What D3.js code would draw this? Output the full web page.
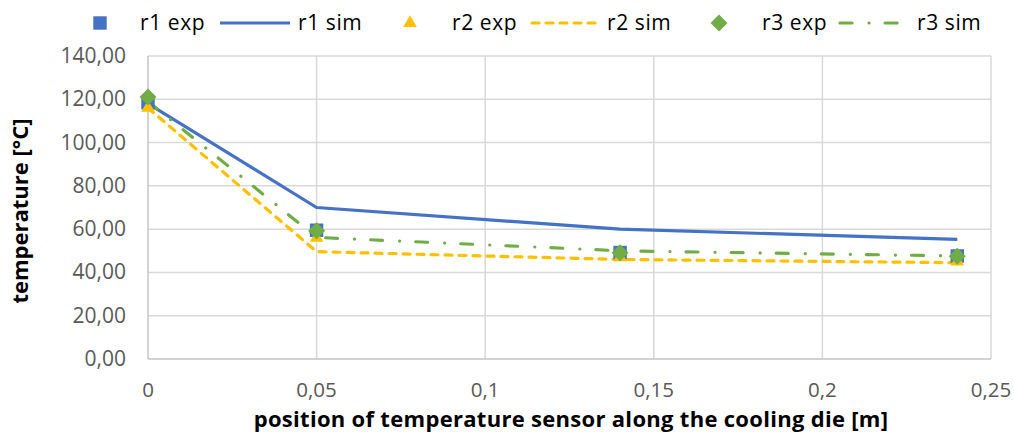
<!DOCTYPE html>
<html><head><meta charset="utf-8">
<script src="https://cdn.jsdelivr.net/npm/d3@7"></script>
<style>
html,body{margin:0;padding:0;background:#fff;}
svg{display:block;font-family:"Open Sans",sans-serif;}
</style></head>
<body><svg id="c" width="1014" height="432"></svg>
<script>
const positions = [0, 0.05, 0.14, 0.24];
const r1Exp = [118.4, 59.5, 49.2, 47.6];
const r1Sim = [118.0, 70.0, 60.0, 55.3];
const r2Exp = [116.0, 56.0, 47.0, 45.0];
const r2Sim = [116.0, 49.6, 46.0, 44.5];
const r3Exp = [121.0, 59.2, 49.1, 47.5];
const r3Sim = [119.0, 56.2, 50.0, 47.6];
const xTicks = [0, 0.05, 0.1, 0.15, 0.2, 0.25];
const xTickLabels = ["0", "0,05", "0,1", "0,15", "0,2", "0,25"];
const yTicks = [0, 20, 40, 60, 80, 100, 120, 140];
const yTickLabels = ["0,00", "20,00", "40,00", "60,00", "80,00", "100,00", "120,00", "140,00"];
const seriesNames = ["r1 exp", "r1 sim", "r2 exp", "r2 sim", "r3 exp", "r3 sim"];
const xTitle = "position of temperature sensor along the cooling die [m]";
const yTitle = "temperature [°C]";

const blue = "#4472C4", yellow = "#FFC000", green = "#70AD47";
const svg = d3.select("#c");
const x = d3.scaleLinear().domain([0, 0.25]).range([148, 991]);
const y = d3.scaleLinear().domain([0, 140]).range([359, 56]);

// gridlines
const g = svg.append("g");
g.selectAll(".hg").data(yTicks.filter(d => d > 0)).join("line")
  .attr("x1", x(0)).attr("x2", x(0.25)).attr("y1", d => y(d)).attr("y2", d => y(d))
  .attr("stroke", "#d9d9d9").attr("stroke-width", 1.5);
g.selectAll(".vg").data(xTicks.filter(d => d > 0)).join("line")
  .attr("x1", d => x(d)).attr("x2", d => x(d)).attr("y1", y(0)).attr("y2", y(140))
  .attr("stroke", "#d9d9d9").attr("stroke-width", 1.5);
// axis lines
g.append("line").attr("x1", x(0)).attr("x2", x(0.25)).attr("y1", y(0)).attr("y2", y(0))
  .attr("stroke", "#c4c4c4").attr("stroke-width", 1.5);
g.append("line").attr("x1", x(0)).attr("x2", x(0)).attr("y1", y(0)).attr("y2", y(140))
  .attr("stroke", "#c4c4c4").attr("stroke-width", 1.5);

// tick labels
svg.append("g").selectAll("text").data(yTicks).join("text")
  .attr("x", 126).attr("y", d => y(d)).attr("dy", "0.33em")
  .attr("text-anchor", "end").attr("font-size", 21).attr("fill", "#595959")
  .text((d, i) => yTickLabels[i]);
svg.append("g").selectAll("text").data(xTicks).join("text")
  .attr("x", d => x(d)).attr("y", 397)
  .attr("text-anchor", "middle").attr("font-size", 20.5).attr("fill", "#595959")
  .text((d, i) => xTickLabels[i]);

// titles
svg.append("text").attr("x", 571).attr("y", 427).attr("text-anchor", "middle")
  .attr("font-size", 22).attr("letter-spacing", 0.3).attr("font-weight", "bold").attr("fill", "#000").text(xTitle);
svg.append("text").attr("transform", "translate(28,211) rotate(-90)").attr("text-anchor", "middle")
  .attr("font-size", 22).attr("font-weight", "bold").attr("fill", "#000").text(yTitle);

// lines
const line = d3.line().x((d, i) => x(positions[i])).y(d => y(d));
const lineStyles = [
  {data: r1Sim, color: blue, dash: null},
  {data: r2Sim, color: yellow, dash: "7,7"},
  {data: r3Sim, color: green, dash: "12,17,0.1,16"}
];
lineStyles.forEach(s => {
  svg.append("path").attr("d", line(s.data)).attr("fill", "none")
    .attr("stroke", s.color).attr("stroke-width", 3.2)
    .attr("stroke-dasharray", s.dash).attr("stroke-linecap", s.dash ? "round" : "butt")
    .attr("stroke-linejoin", "round");
});

// markers
const sq = () => d3.symbol().type(d3.symbolSquare).size(180)();
const tri = () => d3.symbol().type(d3.symbolTriangle).size(80)();
const dia = () => "M0,-8.5L8.5,0L0,8.5L-8.5,0Z";
const markerSets = [
  {data: r1Exp, color: blue, sym: sq},
  {data: r2Exp, color: yellow, sym: tri},
  {data: r3Exp, color: green, sym: dia}
];
markerSets.forEach(s => {
  svg.append("g").selectAll("path").data(s.data).join("path")
    .attr("d", s.sym())
    .attr("transform", (d, i) => `translate(${x(positions[i])},${y(d)})`)
    .attr("fill", s.color);
});

// legend
const leg = svg.append("g").attr("font-size", 21).attr("fill", "#000");
const ly = 23;
const legendItems = [
  {type: "m", sym: sq, color: blue, mx: 100, tx: 140},
  {type: "l", color: blue, dash: null, l1: 220, l2: 290, tx: 298},
  {type: "m", sym: tri, color: yellow, mx: 410, tx: 452},
  {type: "l", color: yellow, dash: "7,7", l1: 532, l2: 598, tx: 607},
  {type: "m", sym: dia, color: green, mx: 719, tx: 762},
  {type: "l", color: green, dash: "12,17,0.1,16", l1: 840, l2: 899, tx: 917}
];
legendItems.forEach((it, i) => {
  if (it.type === "m") {
    leg.append("path").attr("d", it.sym()).attr("transform", `translate(${it.mx},${ly})`).attr("fill", it.color);
  } else {
    leg.append("line").attr("x1", it.l1).attr("x2", it.l2).attr("y1", ly).attr("y2", ly)
      .attr("stroke", it.color).attr("stroke-width", 3.2)
      .attr("stroke-dasharray", it.dash).attr("stroke-linecap", it.dash ? "round" : "butt");
  }
  leg.append("text").attr("x", it.tx).attr("y", 30).attr("letter-spacing", 0.6).text(seriesNames[i]);
});
</script></body></html>
